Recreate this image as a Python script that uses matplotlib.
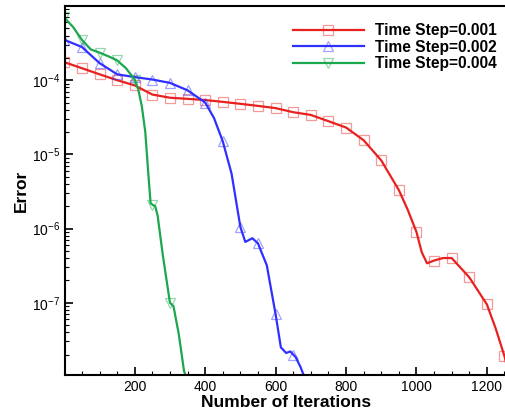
import numpy as np
import matplotlib
matplotlib.use("Agg")
from matplotlib import pyplot as plt
from matplotlib.ticker import MultipleLocator, LogLocator, NullFormatter

plt.rcParams['font.family'] = ['Liberation Sans', 'DejaVu Sans']
plt.rcParams['mathtext.default'] = 'regular'

# Time Step = 0.001
it_001 = [0, 50, 100, 150, 200, 250, 300, 350, 400, 450, 500, 550, 600, 650, 700,
          750, 800, 850, 900, 950, 975, 1000, 1015, 1030, 1050, 1075, 1100, 1150,
          1200, 1225, 1250, 1260]
err_001 = [1.75e-4, 1.45e-4, 1.2e-4, 1.0e-4, 8.5e-5, 6.4e-5, 5.8e-5, 5.6e-5, 5.4e-5,
           5.1e-5, 4.8e-5, 4.5e-5, 4.2e-5, 3.7e-5, 3.4e-5, 2.8e-5, 2.3e-5, 1.55e-5,
           8.3e-6, 3.3e-6, 1.8e-6, 9.0e-7, 4.8e-7, 3.4e-7, 3.7e-7, 4.0e-7, 4.0e-7,
           2.2e-7, 9.5e-8, 4.5e-8, 1.9e-8, 1.2e-8]

# Time Step = 0.002
it_002 = [0, 50, 100, 150, 200, 250, 300, 350, 400, 425, 450, 475, 500, 514, 534,
          550, 575, 600, 615, 630, 642, 650, 657, 671, 680]
err_002 = [3.5e-4, 2.8e-4, 1.7e-4, 1.2e-4, 1.1e-4, 1.02e-4, 9.2e-5, 7.3e-5, 5.0e-5,
           3.1e-5, 1.5e-5, 5.5e-6, 1.05e-6, 6.6e-7, 7.4e-7, 6.3e-7, 3.2e-7, 7.0e-8,
           2.5e-8, 2.1e-8, 2.2e-8, 2.0e-8, 1.85e-8, 1.35e-8, 1.05e-8]

# Time Step = 0.004
it_004 = [0, 25, 50, 75, 100, 125, 150, 175, 200, 210, 220, 230, 238, 245, 250, 258,
          265, 280, 300, 310, 325, 340, 346]
err_004 = [7.0e-4, 5.2e-4, 3.5e-4, 2.6e-4, 2.35e-4, 2.1e-4, 1.85e-4, 1.45e-4, 1.02e-4,
           7.5e-5, 4.5e-5, 2.0e-5, 6.0e-6, 2.2e-6, 2.1e-6, 2.0e-6, 1.5e-6, 4.3e-7,
           1.0e-7, 9.0e-8, 3.8e-8, 1.2e-8, 1.0e-8]

series = [
    ("Time Step=0.001", it_001, err_001, "#e8201e", "s"),
    ("Time Step=0.002", it_002, err_002, "#2f2fff", "^"),
    ("Time Step=0.004", it_004, err_004, "#1aa84e", "v"),
]

fig = plt.figure(figsize=(5.06, 4.13), dpi=100)
ax = fig.add_axes([65 / 506, 1 - 375 / 413, 443 / 506, 369 / 413])

for label, x, y, col, mk in series:
    x = np.array(x)
    marks = [i for i, v in enumerate(x) if v % 50 == 0]
    ax.plot(x, y, color=col, lw=1.6, marker=mk, markevery=marks, ms=7.5,
            mfc='none', mec=matplotlib.colors.to_rgba(col, 0.45), mew=0.9,
            label=label)

ax.set_yscale('log')
ax.set_xlim(2, 1260)
ax.set_ylim(1.06e-8, 1e-3)
ax.xaxis.set_major_locator(MultipleLocator(200))
ax.xaxis.set_minor_locator(MultipleLocator(50))
ax.yaxis.set_minor_locator(LogLocator(subs=np.arange(2, 10)))
ax.yaxis.set_minor_formatter(NullFormatter())
ax.set_yticks([1e-7, 1e-6, 1e-5, 1e-4])
ax.tick_params(which='both', direction='in', top=False, right=False, labelsize=10)
ax.tick_params(which='major', length=6, width=1.2)
ax.tick_params(which='minor', length=3, width=0.8)
xt = ax.get_xticks()
ax.set_xticklabels(["" if v == 0 else f"{int(v)}" for v in xt])
for s in ax.spines.values():
    s.set_linewidth(1.5)

ax.set_xlabel("Number of Iterations", fontsize=12.5, fontweight='bold', labelpad=1)
ax.set_ylabel("Error", fontsize=12.5, fontweight='bold', labelpad=2)

leg = ax.legend(loc='upper right', bbox_to_anchor=(511 / 506, 1 - 9 / 413),
                bbox_transform=fig.transFigure, frameon=False, numpoints=1,
                handlelength=4.55, handletextpad=0.75, labelspacing=0.1,
                prop={'weight': 'bold', 'size': 11.2})

fig.savefig("out.png", dpi=100)
